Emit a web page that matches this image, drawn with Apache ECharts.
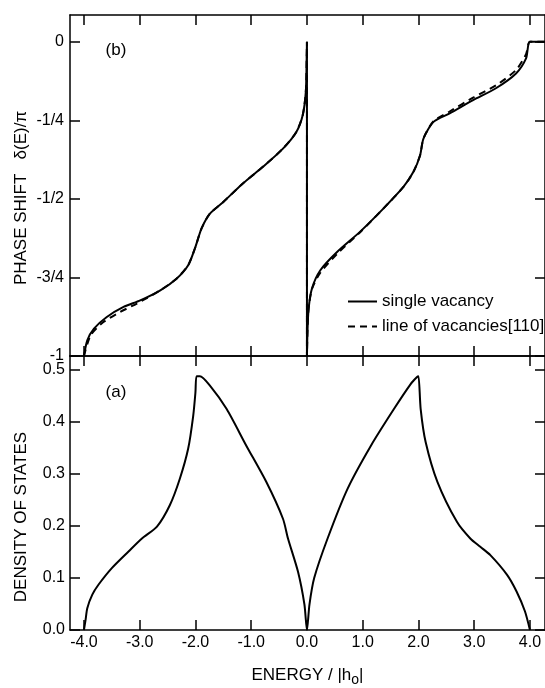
<!DOCTYPE html>
<html>
<head>
<meta charset="utf-8">
<script src="https://cdn.jsdelivr.net/npm/echarts@6/dist/echarts.min.js"></script>
<style>
  html, body { margin: 0; padding: 0; background: #fff; }
  #chart { width: 545px; height: 688px; }
</style>
</head>
<body>
<div id="chart"></div>
<script>
// tick positions and labels
const xTicks = [-4, -3, -2, -1, 0, 1, 2, 3, 4];
const phaseTicks = [-1, -0.75, -0.5, -0.25, 0];
const phaseTickLabels = ["-1", "-3/4", "-1/2", "-1/4", "0"];
const dosTicks = [0, 0.1, 0.2, 0.3, 0.4, 0.5];

// (a) density of states
const dosE = [-4.0, -3.97, -3.94, -3.85, -3.74, -3.5, -3.2, -2.96, -2.69, -2.46, -2.28, -2.13, -2.04, -2.0, -1.98, -1.92,
  -1.74, -1.44, -1.09, -0.73, -0.43, -0.34, -0.16, -0.045, 0,
  0.045, 0.13, 0.37, 0.73, 1.15, 1.56, 1.86, 1.97, 2.0, 2.04, 2.13, 2.34, 2.69, 2.93, 3.11, 3.29, 3.59, 3.76, 3.91, 4.0];
const dosV = [0, 0.02, 0.042, 0.068, 0.087, 0.119, 0.151, 0.176, 0.199, 0.24, 0.291, 0.349, 0.412, 0.457, 0.488, 0.488,
  0.47, 0.425, 0.355, 0.285, 0.214, 0.176, 0.112, 0.049, 0,
  0.049, 0.1, 0.176, 0.272, 0.355, 0.425, 0.473, 0.486, 0.488, 0.425, 0.361, 0.285, 0.208, 0.176, 0.16, 0.144, 0.106, 0.074, 0.036, 0];

// (b) phase shift, single vacancy
const phaseE = [-4.0, -3.94, -3.82, -3.59, -3.29, -2.99, -2.63, -2.34, -2.13, -2.01, -1.89, -1.74, -1.5, -1.15, -0.79, -0.43,
  -0.19, -0.075, -0.02, -0.005, 0, 0,
  0.01, 0.03, 0.09, 0.24, 0.54, 0.95, 1.37, 1.73, 1.91, 2.03, 2.09, 2.27, 2.56, 2.98, 3.39, 3.75, 3.93, 4.0, 4.27];
const phaseSingle = [-1.0, -0.95, -0.913, -0.876, -0.844, -0.823, -0.791, -0.754, -0.711, -0.658, -0.594, -0.547, -0.51, -0.451, -0.398, -0.34,
  -0.287, -0.233, -0.159, -0.053, 0, -1.0,
  -0.92, -0.849, -0.785, -0.727, -0.669, -0.605, -0.531, -0.462, -0.414, -0.361, -0.308, -0.255, -0.228, -0.186, -0.148, -0.101, -0.053, 0, 0];

// (b) phase shift, line of vacancies [110]
const lineE = [-4.0, -3.88, -3.65, -3.35, -3.05, -2.63, -2.34, -2.13, -2.01, -1.89, -1.74, -1.5, -1.15, -0.79, -0.43,
  -0.19, -0.075, -0.02, -0.005, 0, 0,
  0.01, 0.03, 0.09, 0.24, 0.54, 0.95, 1.37, 1.73, 1.91, 2.03, 2.09, 2.27, 2.56, 2.98, 3.39, 3.75, 3.93, 4.0, 4.27];
const phaseLine = [-1.0, -0.934, -0.892, -0.86, -0.833, -0.791, -0.754, -0.711, -0.658, -0.594, -0.547, -0.51, -0.451, -0.398, -0.34,
  -0.287, -0.233, -0.159, -0.053, 0, -1.0,
  -0.92, -0.849, -0.787, -0.735, -0.675, -0.607, -0.531, -0.462, -0.414, -0.361, -0.308, -0.253, -0.222, -0.178, -0.139, -0.09, -0.04, 0, 0];

const font = "Liberation Sans";
const zip = (xs, ys) => xs.map((x, i) => [x, ys[i]]);

const axisLine = { onZero: false, lineStyle: { color: "#000", width: 1.5 } };
const tick = (vals) => ({
  inside: true,
  length: 10,
  customValues: vals,
  lineStyle: { color: "#000", width: 1.5 },
});

const xAxisBase = {
  type: "value",
  min: -4.25,
  max: 4.27,
  splitLine: { show: false },
  axisLine,
  axisTick: tick(xTicks),
};

const chart = echarts.init(document.getElementById("chart"));
chart.setOption({
  backgroundColor: "#fff",
  animation: false,
  grid: [
    { left: 70, top: 15, width: 477, height: 341 },
    { left: 70, top: 356, width: 477, height: 276 },
  ],
  xAxis: [
    { ...xAxisBase, gridIndex: 0, position: "bottom", axisLabel: { show: false } },
    { ...xAxisBase, gridIndex: 0, position: "top", axisLabel: { show: false } },
    {
      ...xAxisBase,
      gridIndex: 1,
      position: "bottom",
      axisLabel: {
        customValues: xTicks,
        formatter: (v) => v.toFixed(1),
        color: "#000",
        fontSize: 16,
        fontFamily: font,
        margin: 5,
      },
      name: "ENERGY / |h{s|o}|",
      nameLocation: "middle",
      nameGap: 34,
      nameTextStyle: {
        color: "#000",
        fontSize: 17,
        fontFamily: font,
        rich: { s: { fontSize: 14, fontFamily: font, color: "#000", padding: [9, 0, 0, 0] } },
      },
    },
    { ...xAxisBase, gridIndex: 1, position: "top", axisLabel: { show: false } },
  ],
  yAxis: [
    {
      type: "value",
      gridIndex: 0,
      position: "left",
      min: -1,
      max: 0.085,
      splitLine: { show: false },
      axisLine,
      axisTick: tick(phaseTicks),
      axisLabel: {
        customValues: phaseTicks,
        formatter: (v) => phaseTickLabels[phaseTicks.indexOf(v)],
        color: "#000",
        fontSize: 16,
        fontFamily: font,
        margin: 6,
      },
    },
    {
      type: "value",
      gridIndex: 0,
      position: "right",
      min: -1,
      max: 0.085,
      splitLine: { show: false },
      axisLine,
      axisTick: tick(phaseTicks),
      axisLabel: { show: false },
    },
    {
      type: "value",
      gridIndex: 1,
      position: "left",
      min: 0,
      max: 0.527,
      splitLine: { show: false },
      axisLine,
      axisTick: tick(dosTicks),
      axisLabel: {
        customValues: dosTicks,
        formatter: (v) => v.toFixed(1),
        color: "#000",
        fontSize: 16,
        fontFamily: font,
        margin: 5,
      },
    },
    {
      type: "value",
      gridIndex: 1,
      position: "right",
      min: 0,
      max: 0.527,
      splitLine: { show: false },
      axisLine,
      axisTick: tick(dosTicks),
      axisLabel: { show: false },
    },
  ],
  legend: {
    data: ["single vacancy", "line of vacancies[110]"],
    orient: "vertical",
    left: 342,
    top: 288,
    itemWidth: 29,
    itemHeight: 14,
    itemGap: 8,
    itemStyle: { opacity: 0 },
    textStyle: { color: "#000", fontSize: 17, fontFamily: font },
  },
  graphic: [
    {
      type: "text",
      x: 21,
      y: 198,
      rotation: Math.PI / 2,
      style: { text: "PHASE SHIFT   δ(E)/π", fill: "#000", font: `17px "${font}"`, align: "center", verticalAlign: "middle" },
    },
    {
      type: "text",
      x: 21,
      y: 517,
      rotation: Math.PI / 2,
      style: { text: "DENSITY OF STATES", fill: "#000", font: `17px "${font}"`, align: "center", verticalAlign: "middle" },
    },
    {
      type: "text",
      x: 116,
      y: 50,
      style: { text: "(b)", fill: "#000", font: `17px "${font}"`, align: "center", verticalAlign: "middle" },
    },
    {
      type: "text",
      x: 116,
      y: 392,
      style: { text: "(a)", fill: "#000", font: `17px "${font}"`, align: "center", verticalAlign: "middle" },
    },
  ],
  series: [
    {
      name: "line of vacancies[110]",
      type: "line",
      xAxisIndex: 0,
      yAxisIndex: 0,
      data: zip(lineE, phaseLine),
      symbol: "none",
      smooth: 0.25,
      lineStyle: { color: "#000", width: 2, type: [7, 5] },
      itemStyle: { color: "#000" },
      z: 2,
    },
    {
      name: "single vacancy",
      type: "line",
      xAxisIndex: 0,
      yAxisIndex: 0,
      data: zip(phaseE, phaseSingle),
      symbol: "none",
      smooth: 0.25,
      lineStyle: { color: "#000", width: 2 },
      itemStyle: { color: "#000" },
      z: 3,
    },
    {
      name: "dos",
      type: "line",
      xAxisIndex: 2,
      yAxisIndex: 2,
      data: zip(dosE, dosV),
      symbol: "none",
      smooth: 0.25,
      lineStyle: { color: "#000", width: 2 },
      itemStyle: { color: "#000" },
    },
  ],
});
</script>
</body>
</html>
